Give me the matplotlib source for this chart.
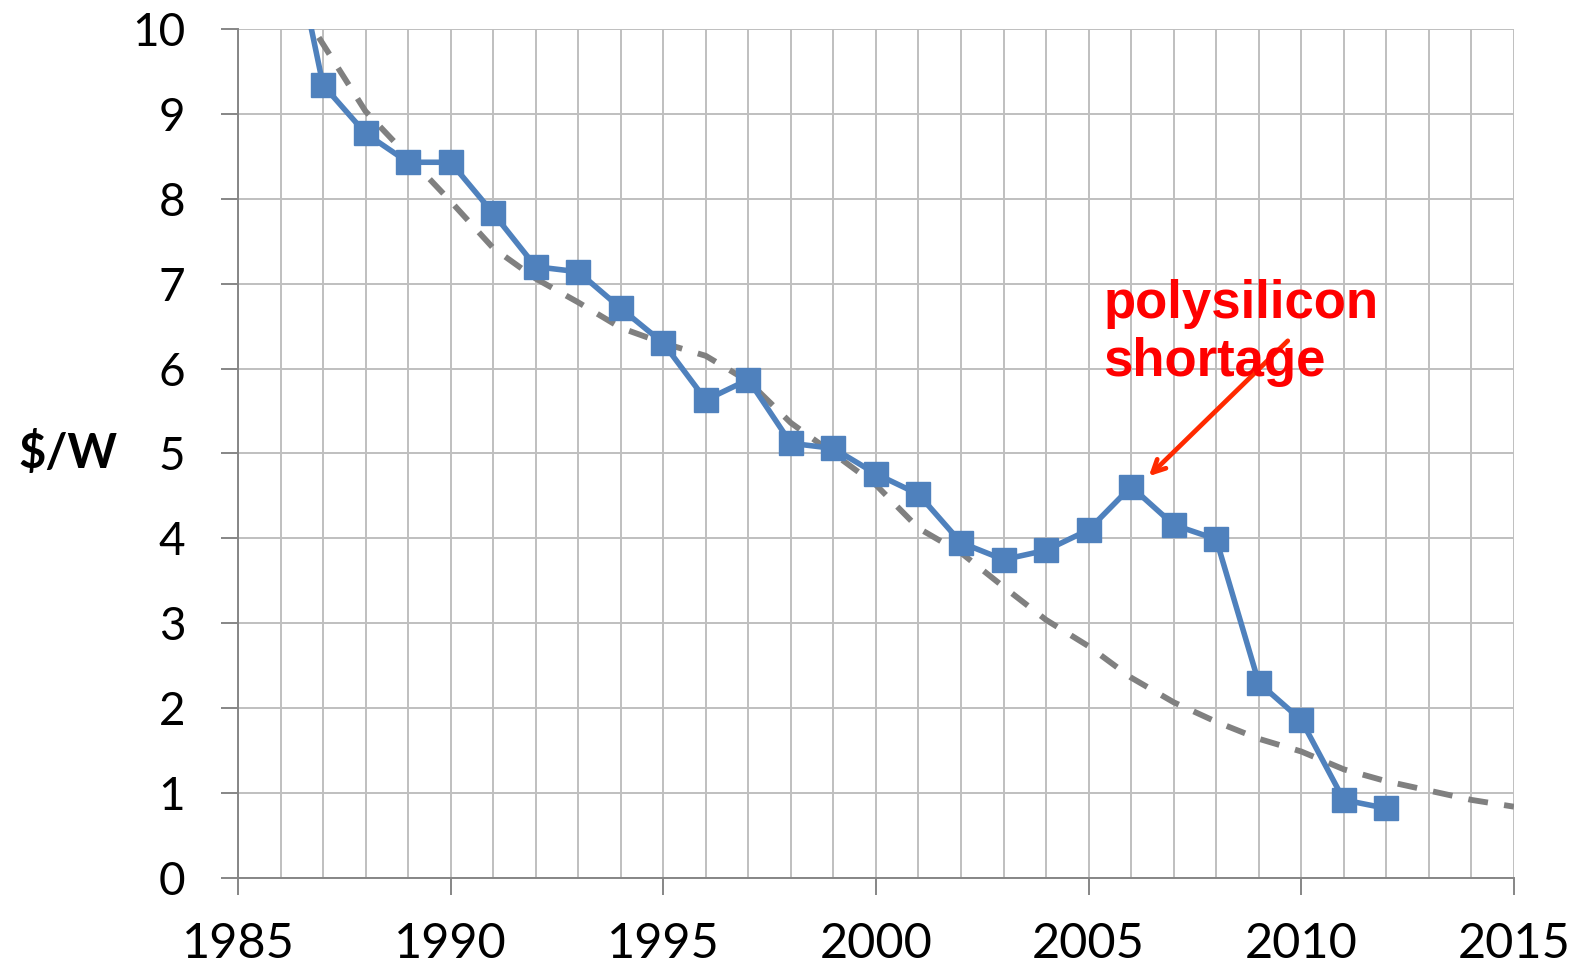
import matplotlib
matplotlib.use("Agg")
import matplotlib.pyplot as plt
from matplotlib.ticker import MultipleLocator
from matplotlib.transforms import blended_transform_factory

# module price data ($/W)
years = [1986, 1987, 1988, 1989, 1990, 1991, 1992, 1993, 1994, 1995, 1996,
         1997, 1998, 1999, 2000, 2001, 2002, 2003, 2004, 2005, 2006, 2007,
         2008, 2009, 2010, 2011, 2012]
price = [11.75, 9.34, 8.77, 8.43, 8.43, 7.83, 7.20, 7.14, 6.71, 6.30, 5.63,
         5.87, 5.12, 5.06, 4.76, 4.52, 3.95, 3.75, 3.86, 4.10, 4.61, 4.16,
         3.99, 2.30, 1.86, 0.92, 0.82]

# dashed trend curve
trend_years = [1986.9, 1988, 1989, 1990, 1991, 1992, 1993, 1994, 1995, 1996,
               1997, 1998, 1999, 2000, 2001, 2002, 2003, 2004, 2005, 2006,
               2007, 2008, 2009, 2010, 2011, 2012, 2013, 2014, 2015]
trend = [9.9, 9.03, 8.50, 7.97, 7.42, 7.06, 6.78, 6.48, 6.30, 6.15,
         5.85, 5.36, 5.00, 4.63, 4.12, 3.83, 3.43, 3.04, 2.73, 2.36,
         2.07, 1.84, 1.64, 1.49, 1.28, 1.14, 1.03, 0.92, 0.84]

plt.rcParams['font.family'] = ['Lato', 'DejaVu Sans']

fig = plt.figure(figsize=(15.77, 9.72), dpi=100)
ax = fig.add_axes([0.1509, 0.0967, 0.8091, 0.8735])

ax.plot(trend_years, trend, color='#808080', lw=4.2, dashes=(3.4, 2.8), zorder=3)
ax.plot(years, price, color='#4F81BD', lw=4.0, marker='s', markersize=17,
        markeredgecolor='#4F81BD', zorder=4, clip_on=True)

ax.set_xlim(1985, 2015)
ax.set_ylim(0, 10)
ax.xaxis.set_major_locator(MultipleLocator(5))
ax.xaxis.set_minor_locator(MultipleLocator(1))
ax.yaxis.set_major_locator(MultipleLocator(1))
ax.grid(True, which='both', color='#BFBFBF', lw=1.4, zorder=0)
ax.set_axisbelow(True)

for s in ['top', 'right']:
    ax.spines[s].set_visible(False)
for s in ['left', 'bottom']:
    ax.spines[s].set_color('#868686')
    ax.spines[s].set_linewidth(1.4)

ax.tick_params(axis='x', which='major', length=12, width=1.4, color='#868686',
               labelsize=35, pad=20)
ax.tick_params(axis='x', which='minor', length=0)
ax.tick_params(axis='y', length=12, width=1.4, color='#868686',
               labelsize=33, pad=26)

tr = blended_transform_factory(fig.transFigure, ax.transData)
ax.text(0.043, 5, '\\$/W', transform=tr, fontsize=34, fontweight='bold',
        ha='center', va='center')

ax.annotate('', xy=(2006.37, 4.71), xytext=(2009.73, 6.35),
            arrowprops=dict(arrowstyle='->,head_length=0.9,head_width=0.45',
                            color='#FF2A00', lw=3.4), zorder=5)
ax.text(2005.35, 7.05, 'polysilicon\nshortage', color='#FF0000', fontsize=38,
        fontweight='bold', family=['Liberation Sans', 'DejaVu Sans'],
        ha='left', va='top', linespacing=1.2, zorder=6)

fig.savefig('out.png', dpi=100)
